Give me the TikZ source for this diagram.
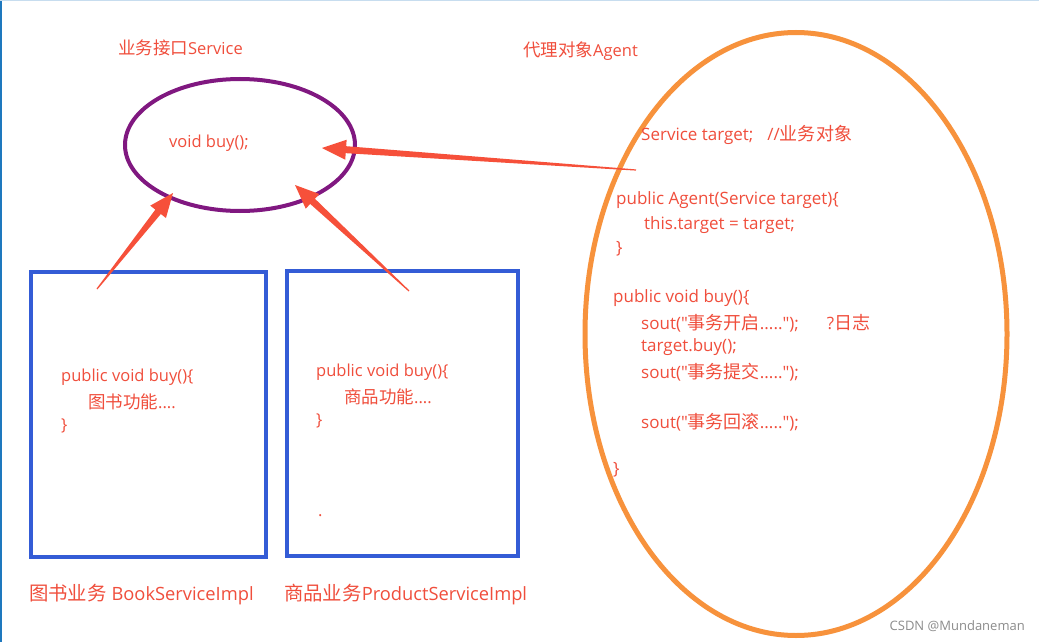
\documentclass[tikz,border=0pt]{standalone}
\usepackage{fontspec}
\newfontfamily\latinfont{Open Sans}
\newfontfamily\cjkfont{Noto Sans CJK SC}[Scale=1.06]
\newcommand\zh[1]{{\cjkfont #1}}
\usetikzlibrary{calc,shapes.geometric}
\definecolor{txtred}{RGB}{240,78,60}
\definecolor{arrowred}{RGB}{246,80,58}
\definecolor{svcpurple}{RGB}{128,24,128}
\definecolor{agentorange}{RGB}{247,146,60}
\definecolor{boxblue}{RGB}{52,92,214}
\definecolor{edgeblue}{RGB}{30,120,190}
\newcommand\taperarrow[2]{%
  \path ($(#2)!24pt!(#1)$) coordinate (baseP);
  \fill[arrowred] ($(#1)!0.6pt!90:(#2)$) -- ($(baseP)!3.5pt!90:(#2)$) -- ($(baseP)!10pt!90:(#2)$) -- (#2)
     -- ($(baseP)!10pt!-90:(#2)$) -- ($(baseP)!3.5pt!-90:(#2)$) -- ($(#1)!0.6pt!-90:(#2)$) -- cycle;
}
\begin{document}
\begin{tikzpicture}[x=1pt,y=-1pt,
  code/.style={anchor=west,inner sep=0pt,text=txtred,font=\latinfont\fontsize{16.5}{20}\selectfont},
  agentcode/.style={code,font=\latinfont\fontsize{17}{20}\selectfont},
  title/.style={code},
  label/.style={code,font=\latinfont\fontsize{18.3}{22}\selectfont}]
\useasboundingbox (0,0) rectangle (1039,642);
\fill[white] (0,0) rectangle (1039,642);
\draw[edgeblue,line width=1.5pt] (0.75,0) -- (0.75,642);
\draw[edgeblue!25,line width=1pt] (0,0.5) -- (1039,0.5);

% service interface
\node[draw=svcpurple,line width=4pt,ellipse,minimum width=230pt,minimum height=132pt,inner sep=0pt] (svc) at (240,145) {};
\node[title] (svct) at (118,48) {\zh{业务接口}Service};
\node[code] (svcm) at (169,143) {void buy();};

% agent
\node[draw=agentorange,line width=5pt,ellipse,minimum width=422pt,minimum height=603pt,inner sep=0pt] (agent) at (796,334) {};
\node[title] (agt) at (523,51) {\zh{代理对象}Agent};
\node[agentcode] (g1) at (641,135) {Service target;\hspace{14pt}//\zh{业务对象}};
\node[agentcode] (g2) at (616,200) {public Agent(Service target)\{};
\node[agentcode] (g3) at (644,225) {this.target = target;};
\node[agentcode] (g4) at (616,249) {\}};
\node[agentcode] (g5) at (613,298) {public void buy()\{};
\node[agentcode] (g6) at (641,323) {sout("\zh{事务开启}.....");\hspace{28pt}?\zh{日志}};
\node[agentcode] (g7) at (641,347) {target.buy();};
\node[agentcode] (g8) at (641,372) {sout("\zh{事务提交}.....");};
\node[agentcode] (g9) at (641,422) {sout("\zh{事务回滚}.....");};
\node[agentcode] (g10) at (613,470) {\}};

% implementations
\draw[boxblue,line width=4pt] (31,272) rectangle (266,557);
\draw[boxblue,line width=4pt] (287,271) rectangle (518,556);
\node[code] (b1) at (61,377) {public void buy()\{};
\node[code] (b2) at (88,402) {\zh{图书功能}....};
\node[code] (b3) at (61,426) {\}};
\node[code] (p1) at (316,372) {public void buy()\{};
\node[code] (p2) at (344,397) {\zh{商品功能}....};
\node[code] (p3) at (316,421) {\}};
\node[code] (pdot) at (318,516) {.};
\node[label] (bookl) at (29,595) {\zh{图书业务} BookServiceImpl};
\node[label] (prodl) at (284,595) {\zh{商品业务}ProductServiceImpl};

% arrows
\coordinate (a1s) at (97,289);
\coordinate (a1e) at (173,193);
\coordinate (a2s) at (409,291);
\coordinate (a2e) at (295,185);
\coordinate (a3s) at (636,170);
\coordinate (a3e) at (322,148);
\taperarrow{a1s}{a1e}
\taperarrow{a2s}{a2e}
\taperarrow{a3s}{a3e}

\node[anchor=east,inner sep=0pt,text=black!45,font=\latinfont\fontsize{13}{15}\selectfont] (wm) at (1025,626) {CSDN @Mundaneman};
\end{tikzpicture}
\end{document}
